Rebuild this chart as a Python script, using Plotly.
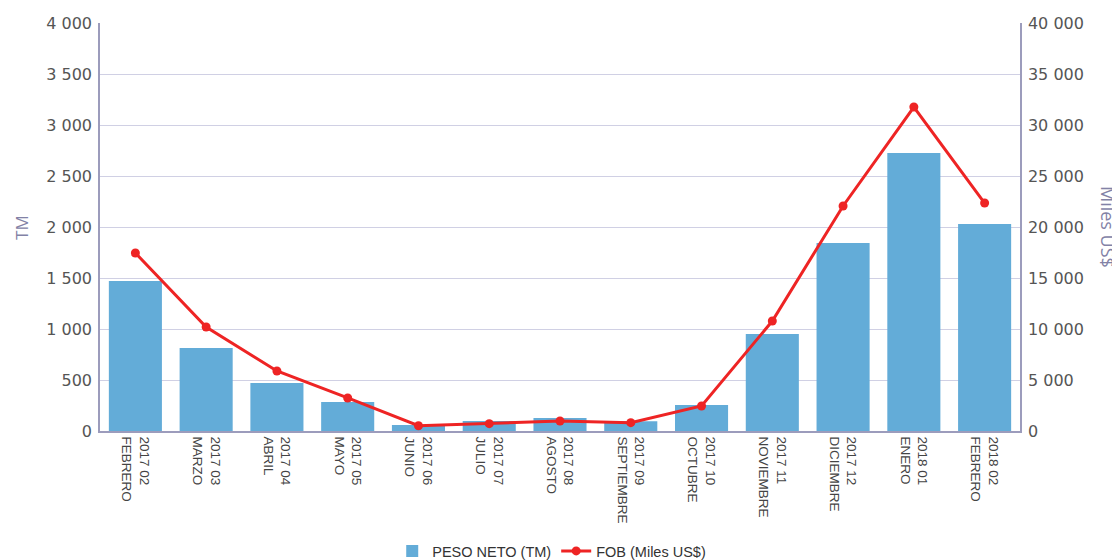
import plotly.graph_objects as go

periods = ["2017 02", "2017 03", "2017 04", "2017 05", "2017 06", "2017 07", "2017 08",
           "2017 09", "2017 10", "2017 11", "2017 12", "2018 01", "2018 02"]
months = ["FEBRERO", "MARZO", "ABRIL", "MAYO", "JUNIO", "JULIO", "AGOSTO",
          "SEPTIEMBRE", "OCTUBRE", "NOVIEMBRE", "DICIEMBRE", "ENERO", "FEBRERO"]
peso_neto = [1470, 814, 470, 284, 60, 98, 127, 95, 255, 950, 1843, 2725, 2030]
fob = [17450, 10200, 5880, 3240, 520, 720, 980, 820, 2450, 10780, 22060, 31760, 22350]

categories = [f"{p}<br>{m}" for p, m in zip(periods, months)]

fig = go.Figure()
fig.add_trace(go.Bar(
    x=categories, y=peso_neto, name="PESO NETO (TM)",
    marker=dict(color="#63acd8", line=dict(width=0)),
    yaxis="y",
))
fig.add_trace(go.Scatter(
    x=categories, y=fob, name="FOB (Miles US$)", mode="lines+markers",
    line=dict(color="#ee2424", width=3),
    marker=dict(color="#ee2424", size=9),
    yaxis="y2",
))

axis_line = "#9c9cbc"
grid = "#d0d0e4"
tick_font = dict(family="DejaVu Sans, sans-serif", size=16, color="#555555")
fig.update_layout(
    width=1112, height=552,
    margin=dict(l=92, r=100, t=15, b=129, autoexpand=False),
    paper_bgcolor="white", plot_bgcolor="white",
    separators=". ",
    bargap=0.25,
    font=dict(family="Open Sans, sans-serif", color="#555555", size=13),
    xaxis=dict(
        range=[-0.5, len(categories) - 0.5],
        tickangle=90, showline=True, linecolor=axis_line, linewidth=1.5,
        showgrid=False, ticks="", automargin=False,
        tickfont=dict(family="Liberation Sans, Arial, sans-serif", size=13.5, color="#444444"),
        ticklabelstandoff=1,
    ),
    yaxis=dict(
        range=[0, 4000], dtick=500, showline=True, linecolor=axis_line, linewidth=1.5,
        gridcolor=grid, gridwidth=1, zeroline=False, tickformat=",d", automargin=False,
        tickfont=tick_font, ticks="", ticklabelstandoff=3,
    ),
    yaxis2=dict(
        range=[0, 40000], dtick=5000, overlaying="y", side="right",
        showline=True, linecolor=axis_line, linewidth=1.5, automargin=False,
        showgrid=False, zeroline=False, tickformat=",d",
        tickfont=tick_font, ticks="", ticklabelstandoff=3,
    ),
    legend=dict(
        orientation="h", x=0.491, xanchor="center", y=-0.294, yanchor="middle",
        font=dict(size=14.5, color="#333333", family="Liberation Sans, Arial, sans-serif"),
        itemwidth=30,
    ),
    annotations=[
        dict(text="TM", xref="paper", yref="paper", x=-0.086, y=0.5,
             textangle=-90, showarrow=False, font=dict(size=17, color="#8282a6"),
             xanchor="center", yanchor="middle"),
        dict(text="Miles US$", xref="paper", yref="paper", x=1.0957, y=0.5,
             textangle=90, showarrow=False, font=dict(size=18, color="#8282a6"),
             xanchor="center", yanchor="middle"),
    ],
)

fig.write_html("out.html")
